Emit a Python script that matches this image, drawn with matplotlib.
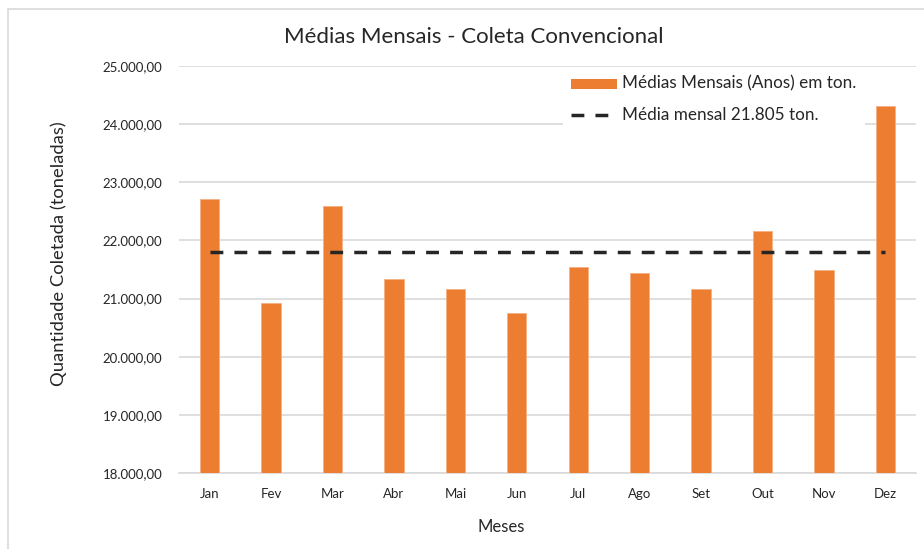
import matplotlib

matplotlib.use("Agg")
import matplotlib.pyplot as plt
import numpy as np
from matplotlib.lines import Line2D
from matplotlib.patches import Rectangle

plt.rcParams["font.family"] = ["Lato", "DejaVu Sans"]

# monthly averages of conventional collection (tons)
meses = ["Jan", "Fev", "Mar", "Abr", "Mai", "Jun", "Jul", "Ago", "Set", "Out", "Nov", "Dez"]
medias = [22715, 20930, 22600, 21330, 21160, 20755, 21535, 21445, 21160, 22170, 21500, 24305]
media_mensal = 21805

y_ticks = [18000, 19000, 20000, 21000, 22000, 23000, 24000, 25000]

ORANGE = "#ed7d31"
GRID = "#d9d9d9"
DARK = "#262626"
W, H = 924, 549
DASHES = (3.7, 3.2)


def fmt_br(v, dec=2):
    # 21805 -> "21.805,00"
    return f"{v:,.{dec}f}".replace(",", "X").replace(".", ",").replace("X", ".")


def fx(px):
    return px / W


def fy(py):
    return 1 - py / H


fig = plt.figure(figsize=(W / 100, H / 100), dpi=100)
ax = fig.add_axes([fx(179), fy(473), fx(737), 407 / H])

x = np.arange(len(meses))
ax.bar(x, medias, width=0.315, color=ORANGE, edgecolor="#f4b183", linewidth=0.6, zorder=3)
ax.plot([x[0], x[-1]], [media_mensal, media_mensal], color=DARK, lw=2.5,
        dashes=DASHES, zorder=4)

ax.set_xlim(-0.5, len(meses) - 0.5)
ax.set_ylim(y_ticks[0], y_ticks[-1])
ax.set_yticks(y_ticks)
ax.set_yticklabels([fmt_br(v) for v in y_ticks], fontsize=9.5, color=DARK)
ax.set_xticks(x)
ax.set_xticklabels(meses, fontsize=9.5, color=DARK)
ax.tick_params(length=0, pad=12)
ax.tick_params(axis="x", pad=11)
ax.grid(axis="y", color=GRID, lw=1.2, zorder=0)
for side in ["top", "right", "left"]:
    ax.spines[side].set_visible(False)
ax.spines["bottom"].set_color(GRID)
ax.spines["bottom"].set_linewidth(1.2)

# titles and axis labels
fig.text(fx(473.5), fy(37), "Médias Mensais - Coleta Convencional", fontsize=16,
         color=DARK, ha="center", va="center")
fig.text(fx(501), fy(527), "Meses", fontsize=12, color=DARK, ha="center", va="center")
fig.text(fx(59), fy(254), "Quantidade Coletada (toneladas)", fontsize=13.2, color=DARK,
         ha="center", va="center", rotation=90)

# legend drawn by hand on a white box
fig.patches.append(Rectangle((fx(563), fy(130)), fx(302), 60 / H, transform=fig.transFigure,
                             facecolor="white", edgecolor="none", zorder=5))
fig.patches.append(Rectangle((fx(571), fy(89)), fx(46), 10 / H, transform=fig.transFigure,
                             facecolor=ORANGE, edgecolor="none", zorder=6))
fig.lines.append(Line2D([fx(571), fx(608)], [fy(115), fy(115)], transform=fig.transFigure,
                        color=DARK, lw=2.5, dashes=DASHES, zorder=6))
fig.text(fx(622), fy(83), "Médias Mensais (Anos) em ton.", fontsize=12.3, color=DARK,
         va="center", zorder=7)
fig.text(fx(622), fy(115), f"Média mensal {fmt_br(media_mensal, 0)} ton.", fontsize=12.3,
         color=DARK, va="center", zorder=7)

# chart area border
fig.patches.append(Rectangle((fx(8), -0.1), 1.0, fy(9) + 0.1, transform=fig.transFigure,
                             fill=False, edgecolor=GRID, lw=1.2))

fig.savefig("out.png", dpi=100)
